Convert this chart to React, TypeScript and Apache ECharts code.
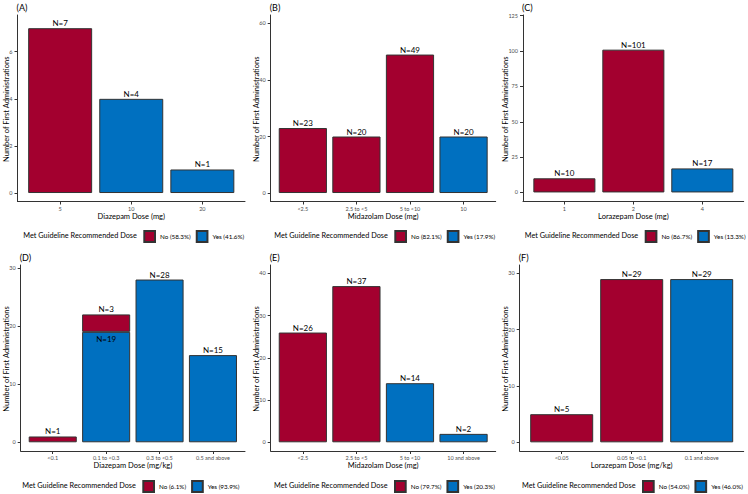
import React, { useEffect, useRef } from "react";
import * as echarts from "echarts";

// ---------- data ----------
const catsA = ["5", "10", "20"];
const noA = [7, null, null];
const yesA = [null, 4, 1];
const ticksA = [0, 2, 4, 6];
const legendA = ["No (58.3%)", "Yes (41.6%)"];
const xTitleA = "Diazepam Dose (mg)";

const catsB = ["<2.5", "2.5 to <5", "5 to <10", "10"];
const noB = [23, 20, 49, null];
const yesB = [null, null, null, 20];
const ticksB = [0, 20, 40, 60];
const legendB = ["No (82.1%)", "Yes (17.9%)"];
const xTitleB = "Midazolam Dose (mg)";

const catsC = ["1", "2", "4"];
const noC = [10, 101, null];
const yesC = [null, null, 17];
const ticksC = [0, 25, 50, 75, 100, 125];
const legendC = ["No (86.7%)", "Yes (13.3%)"];
const xTitleC = "Lorazepam Dose (mg)";

const catsD = ["<0.1", "0.1 to <0.3", "0.3 to <0.5", "0.5 and above"];
const noD = [1, 3, null, null];
const yesD = [null, 19, 28, 15];
const ticksD = [0, 10, 20, 30];
const legendD = ["No (6.1%)", "Yes (93.9%)"];
const xTitleD = "Diazepam Dose (mg/kg)";

const catsE = ["<2.5", "2.5 to <5", "5 to <10", "10 and above"];
const noE = [26, 37, null, null];
const yesE = [null, null, 14, 2];
const ticksE = [0, 10, 20, 30, 40];
const legendE = ["No (79.7%)", "Yes (20.3%)"];
const xTitleE = "Midazolam Dose (mg)";

const catsF = ["<0.05", "0.05 to <0.1", "0.1 and above"];
const noF = [5, 29, null];
const yesF = [null, null, 29];
const ticksF = [0, 10, 20, 30];
const legendF = ["No (54.0%)", "Yes (46.0%)"];
const xTitleF = "Lorazepam Dose (mg/kg)";

const tags = ["(A)", "(B)", "(C)", "(D)", "(E)", "(F)"];
const yTitle = "Number of First Administrations";
const legendTitle = "Met Guideline Recommended Dose";

// ---------- layout ----------
const RED = "#A3002F";
const BLUE = "#0070C0";
const FONT = "Lato, 'Open Sans', sans-serif";

const panels = [
  { tag: tags[0], cats: catsA, no: noA, yes: yesA, ticks: ticksA, legend: legendA, xTitle: xTitleA,
    left: 17.5, right: 245, top: 15, bottom: 201.5, yMin: -0.36, yMax: 7.56, yTitleX: 6, legendX: 143.3, legendY: 230 },
  { tag: tags[1], cats: catsB, no: noB, yes: yesB, ticks: ticksB, legend: legendB, xTitle: xTitleB,
    left: 270.7, right: 495.7, top: 15, bottom: 201.5, yMin: -3, yMax: 63, yTitleX: 256, legendX: 394.3, legendY: 230 },
  { tag: tags[2], cats: catsC, no: noC, yes: yesC, ticks: ticksC, legend: legendC, xTitle: xTitleC,
    left: 523, right: 743.7, top: 15, bottom: 201.5, yMin: -6.4, yMax: 125.5, yTitleX: 505, legendX: 644.7, legendY: 230 },
  { tag: tags[3], cats: catsD, no: noD, yes: yesD, ticks: ticksD, legend: legendD, xTitle: xTitleD,
    left: 20.7, right: 245, top: 265, bottom: 451, yMin: -1.5, yMax: 30.5, yTitleX: 6, legendX: 142.3, legendY: 480 },
  { tag: tags[4], cats: catsE, no: noE, yes: yesE, ticks: ticksE, legend: legendE, xTitle: xTitleE,
    left: 270.7, right: 495.7, top: 265, bottom: 451, yMin: -2.06, yMax: 42, yTitleX: 256, legendX: 394, legendY: 480 },
  { tag: tags[5], cats: catsF, no: noF, yes: yesF, ticks: ticksF, legend: legendF, xTitle: xTitleF,
    left: 519.7, right: 743.7, top: 265, bottom: 451, yMin: -1.54, yMax: 31.5, yTitleX: 505, legendX: 642, legendY: 480 },
];

function buildOption() {
  const grid: any[] = [];
  const xAxis: any[] = [];
  const yAxis: any[] = [];
  const series: any[] = [];
  const legend: any[] = [];
  const graphic: any[] = [];
  const N = panels.length;

  // visible frames (axes, ticks, labels)
  panels.forEach((p, i) => {
    const n = p.cats.length;
    const w = p.right - p.left;
    const h = p.bottom - p.top;
    const positions = p.cats.map((_, j) => j + 1);

    grid.push({ left: p.left, top: p.top, width: w, height: h, containLabel: false, outerBoundsMode: "none" });

    xAxis.push({
      type: "value",
      gridIndex: i,
      min: 0.4,
      max: n + 0.6,
      splitLine: { show: false },
      axisLine: { show: true, onZero: false, lineStyle: { color: "#333", width: 1 } },
      axisTick: { show: true, customValues: positions, length: 3, lineStyle: { color: "#333" } },
      axisLabel: {
        customValues: positions,
        formatter: (v: number) => p.cats[Math.round(v) - 1] ?? "",
        fontSize: 5.5,
        color: "#4d4d4d",
        fontFamily: FONT,
        margin: 4,
      },
      name: p.xTitle,
      nameLocation: "middle",
      nameGap: 8,
      nameTextStyle: { fontSize: 7.5, color: "#000", fontFamily: FONT },
    });

    yAxis.push({
      type: "value",
      gridIndex: i,
      min: p.yMin,
      max: p.yMax,
      splitLine: { show: false },
      axisLine: { show: true, onZero: false, lineStyle: { color: "#333", width: 1 } },
      axisTick: { show: true, customValues: p.ticks, length: 3, lineStyle: { color: "#333" } },
      axisLabel: {
        customValues: p.ticks,
        fontSize: 5.5,
        color: "#4d4d4d",
        fontFamily: FONT,
        margin: 5,
      },
    });

    legend.push({
      data: [p.legend[0], p.legend[1]],
      left: p.legendX,
      top: p.legendY,
      orient: "horizontal",
      icon: "rect",
      itemWidth: 10.7,
      itemHeight: 11,
      itemGap: 5,
      padding: 0,
      selectedMode: false,
      textStyle: { fontSize: 6.3, color: "#000", fontFamily: FONT },
    });

    graphic.push({
      type: "text",
      x: p.legendX - 6.5,
      y: p.legendY + 5.5,
      style: { text: legendTitle, fontSize: 7.3, fill: "#000", fontFamily: FONT, align: "right", verticalAlign: "middle" },
    });
    graphic.push({
      type: "text",
      x: p.left - 1,
      y: p.top - 8,
      style: { text: p.tag, fontSize: 9, fill: "#000", fontFamily: FONT, align: "left", verticalAlign: "middle" },
    });
    graphic.push({
      type: "text",
      x: p.yTitleX,
      y: (p.top + p.bottom) / 2 + 1,
      rotation: Math.PI / 2,
      style: { text: yTitle, fontSize: 7.5, fill: "#000", fontFamily: FONT, align: "center", verticalAlign: "middle" },
    });
  });

  // bar layers: category grids aligned with ggplot's 0.6-unit discrete expansion
  panels.forEach((p, i) => {
    const n = p.cats.length;
    const w = p.right - p.left;
    const h = p.bottom - p.top;
    const unit = w / (n + 0.2);
    const gi = N + i;

    grid.push({ left: p.left + 0.1 * unit, top: p.top, width: unit * n, height: h, containLabel: false, outerBoundsMode: "none" });
    xAxis.push({ type: "category", gridIndex: gi, data: p.cats, show: false });
    yAxis.push({ type: "value", gridIndex: gi, min: p.yMin, max: p.yMax, show: false, splitLine: { show: false } });

    const labelBase = {
      show: true,
      position: "top",
      distance: 1,
      fontSize: 8,
      color: "#000",
      fontFamily: FONT,
      formatter: (pr: any) => "N=" + pr.value,
    };

    series.push({
      type: "bar",
      name: p.legend[1],
      xAxisIndex: gi,
      yAxisIndex: gi,
      stack: "s" + i,
      barWidth: "90%",
      itemStyle: { color: BLUE, borderColor: "#333", borderWidth: 1 },
      label: labelBase,
      data: p.yes.map((v, j) =>
        v == null
          ? "-"
          : p.no[j] != null
          ? { value: v, label: { position: "insideTop", distance: 3 } }
          : v
      ),
    });
    series.push({
      type: "bar",
      name: p.legend[0],
      xAxisIndex: gi,
      yAxisIndex: gi,
      stack: "s" + i,
      barWidth: "90%",
      itemStyle: { color: RED, borderColor: "#333", borderWidth: 1 },
      label: labelBase,
      data: p.no.map((v) => (v == null ? "-" : v)),
    });
  });

  return {
    animation: false,
    backgroundColor: "#fff",
    textStyle: { fontFamily: FONT },
    grid,
    xAxis,
    yAxis,
    series,
    legend,
    graphic,
  };
}

export default function App() {
  const ref = useRef<HTMLDivElement>(null);
  useEffect(() => {
    document.body.style.margin = "0";
    if (!ref.current) return;
    const chart = echarts.init(ref.current, undefined, { renderer: "svg" });
    chart.setOption(buildOption() as any);
    return () => chart.dispose();
  }, []);
  return <div ref={ref} style={{ width: 748, height: 494 }} />;
}
